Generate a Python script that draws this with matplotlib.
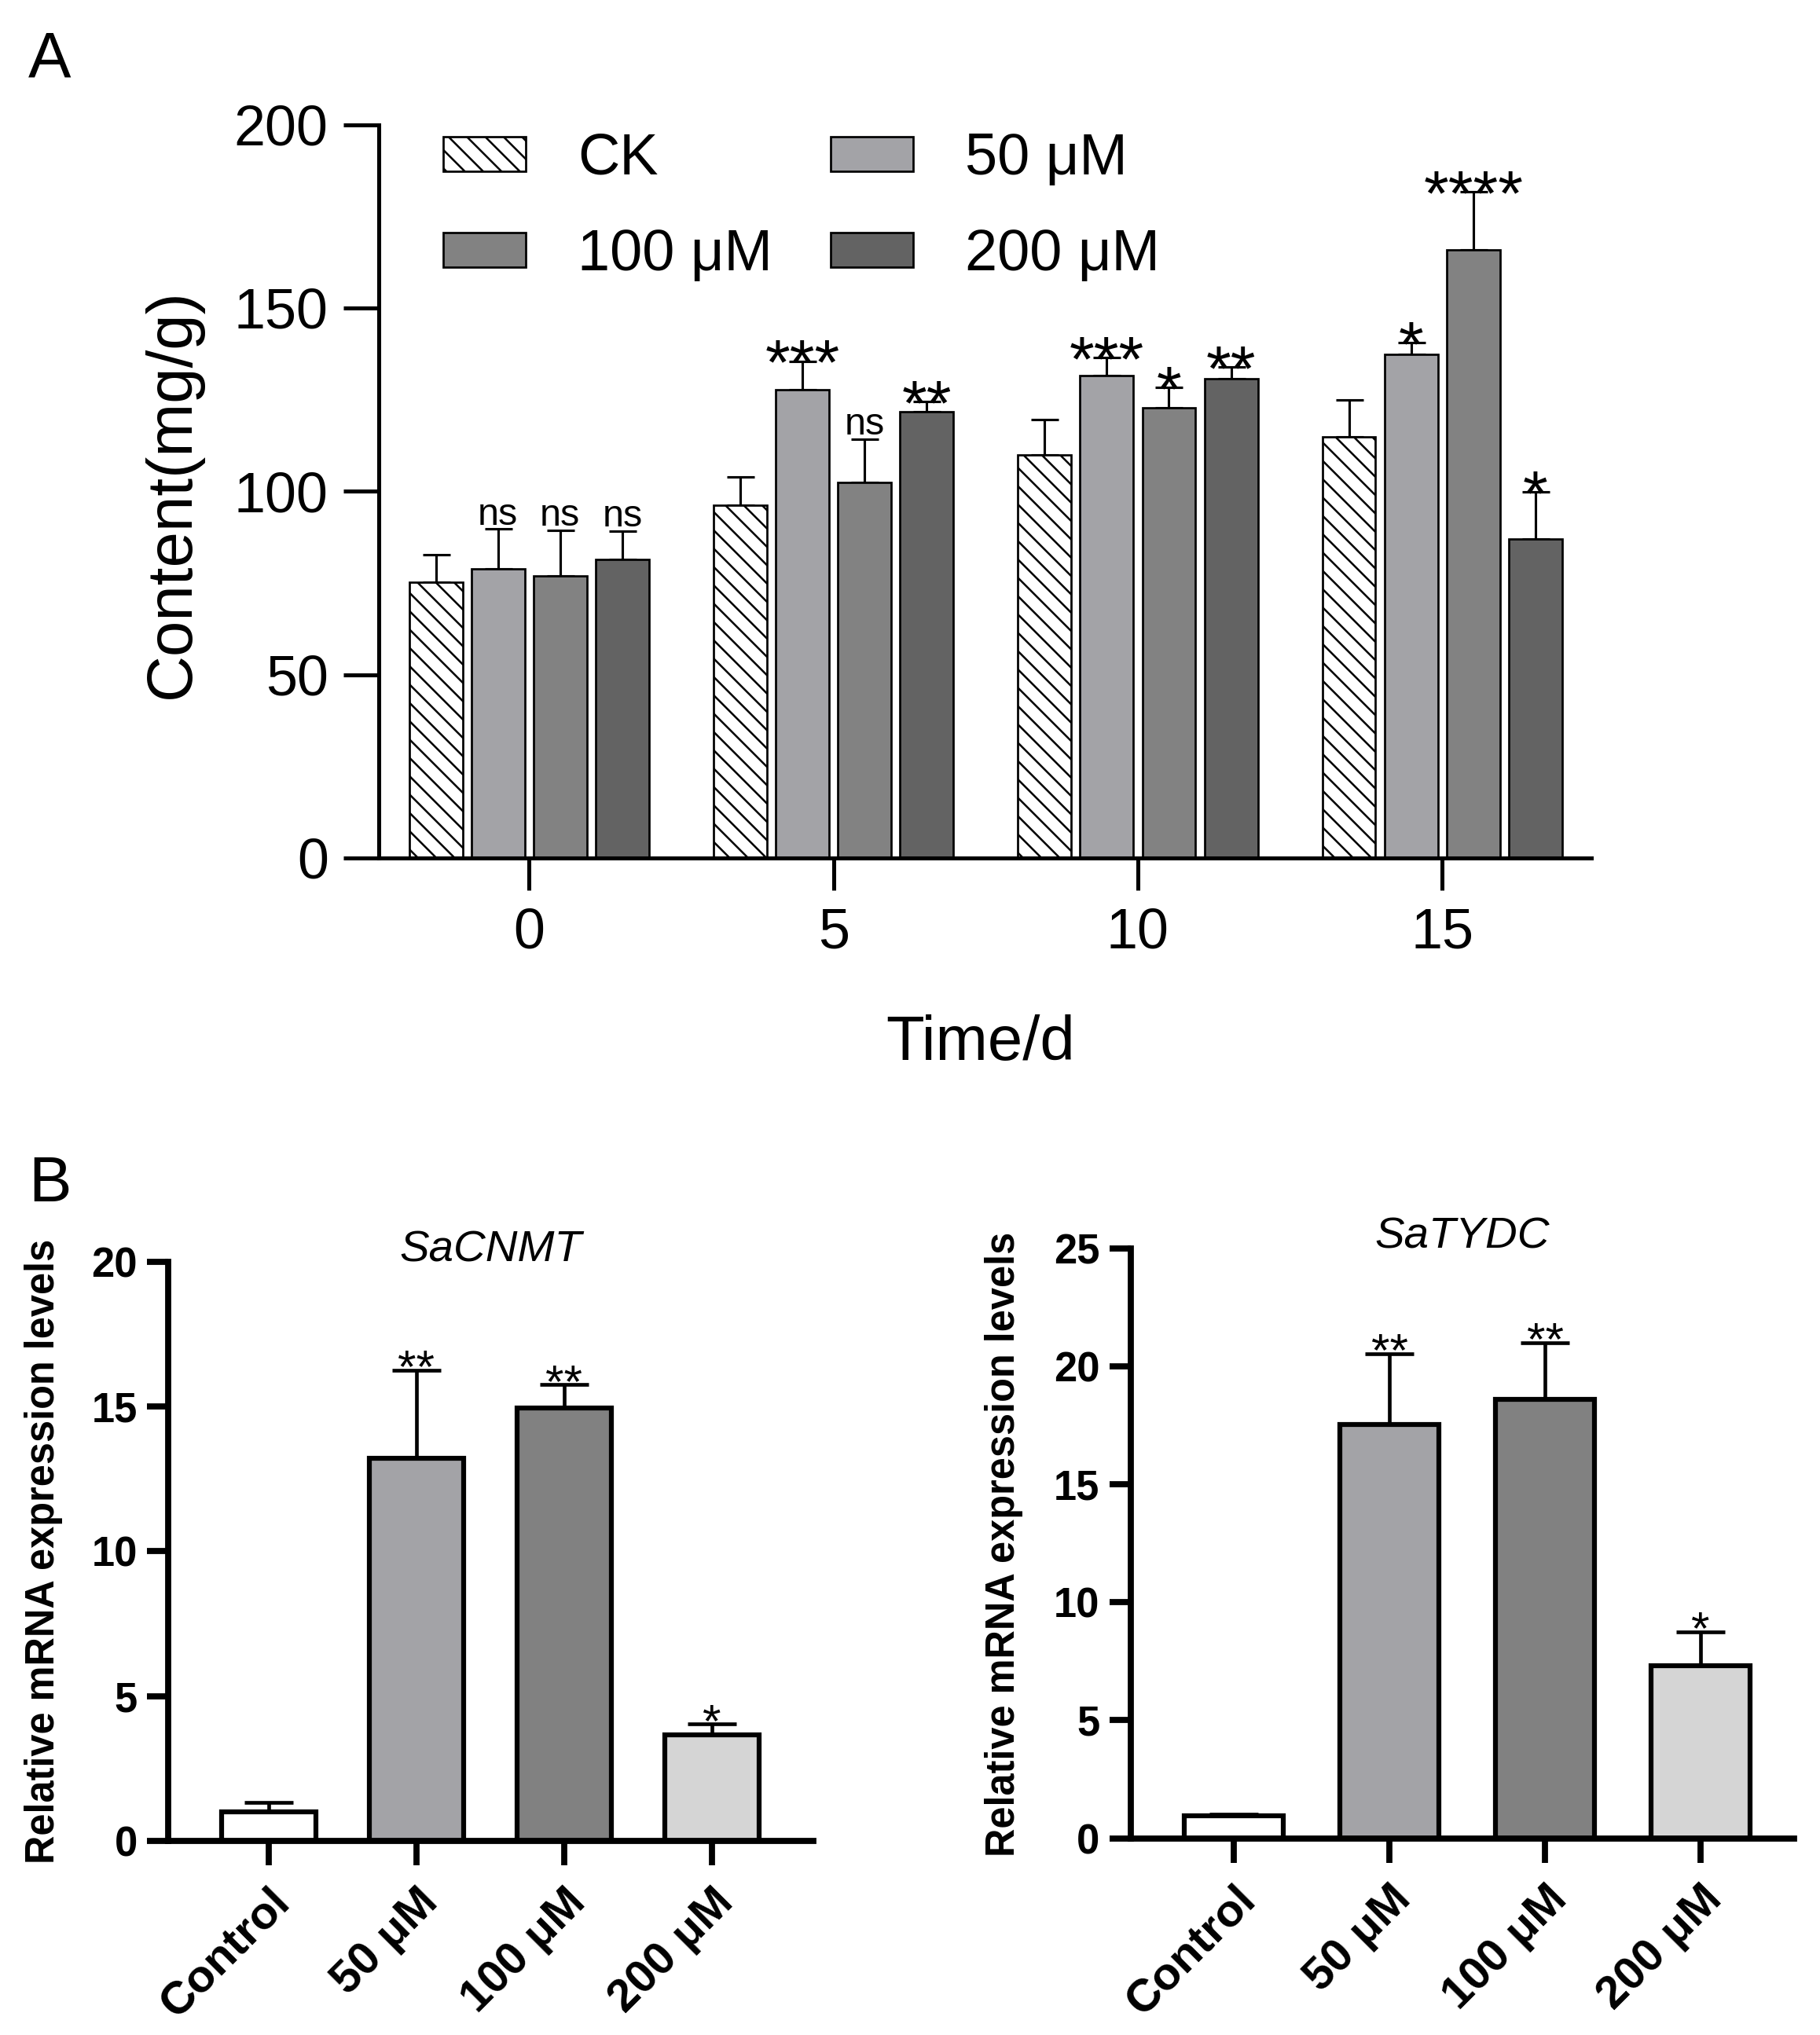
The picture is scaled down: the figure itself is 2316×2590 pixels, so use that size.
import numpy as np
import matplotlib
matplotlib.use("Agg")
import matplotlib.pyplot as plt

plt.rcParams['font.family'] = ['Liberation Sans', 'DejaVu Sans']
plt.rcParams['hatch.linewidth'] = 1.3

# ---------------- data ----------------
days = ["0", "5", "10", "15"]
series_a = ["CK", "50 μM", "100 μM", "200 μM"]
ck_vals = [75.2, 96.3, 109.9, 114.9]
ck_err = [7.6, 7.7, 9.6, 10.1]
c50_vals = [78.9, 127.7, 131.5, 137.3]
c50_err = [10.8, 7.8, 4.9, 3.2]
c100_vals = [76.9, 102.4, 122.7, 165.8]
c100_err = [12.5, 11.9, 5.6, 15.9]
c200_vals = [81.4, 121.7, 130.7, 87.0]
c200_err = [7.8, 2.7, 3.2, 12.9]
sig_ck = ["", "", "", ""]
sig_50 = ["ns", "***", "***", "*"]
sig_100 = ["ns", "ns", "*", "****"]
sig_200 = ["ns", "**", "**", "*"]

groups_b = ["Control", "50 μM", "100 μM", "200 μM"]
cnmt_vals = [1.0, 13.2, 14.95, 3.65]
cnmt_err = [0.33, 3.05, 0.8, 0.38]
cnmt_sig = ["", "**", "**", "*"]
tydc_vals = [0.95, 17.55, 18.6, 7.3]
tydc_err = [0.08, 3.0, 2.4, 1.45]
tydc_sig = ["", "**", "**", "*"]

colors_a = ["white", "#a3a3a7", "#828282", "#636363"]
hatches_a = ["\\\\", None, None, None]
colors_b = ["white", "#a3a3a7", "#818181", "#d5d5d5"]

W, H = 2316, 2590
DPI = 140
fig = plt.figure(figsize=(W / DPI, H / DPI), dpi=DPI)


def box(x0, y0, x1, y1):
    # pixel box (top-left origin) -> figure fraction
    return [x0 / W, 1 - y1 / H, (x1 - x0) / W, (y1 - y0) / H]


# ---------------- Panel A ----------------
axA = fig.add_axes(box(482, 158.6, 2025, 1092))
xg = np.arange(len(days))
pitch = 0.2043
width = 0.175
vals_a = [ck_vals, c50_vals, c100_vals, c200_vals]
errs_a = [ck_err, c50_err, c100_err, c200_err]
sigs_a = [sig_ck, sig_50, sig_100, sig_200]
handles = []
for i in range(4):
    xs = xg + (i - 1.5) * pitch
    b = axA.bar(xs, vals_a[i], width, color=colors_a[i], edgecolor="black",
                linewidth=1.4, hatch=hatches_a[i], label=series_a[i], zorder=2)
    handles.append(b)
    axA.errorbar(xs, vals_a[i], yerr=[np.zeros(4), errs_a[i]], fmt="none",
                 ecolor="black", elinewidth=1.6, capsize=9, capthick=1.6, zorder=1)
    for x, v, e, s in zip(xs, vals_a[i], errs_a[i], sigs_a[i]):
        if not s:
            continue
        if s == "ns":
            axA.annotate(s, (x, v + e), xytext=(0, 3), textcoords="offset points",
                         ha="center", va="baseline", fontsize=25)
        else:
            axA.annotate(s, (x, v + e), xytext=(0, -15), textcoords="offset points",
                         ha="center", va="baseline", fontsize=42)

axA.set_xlim(-0.494, 3.49)
axA.set_ylim(0, 200)
axA.set_yticks([0, 50, 100, 150, 200])
axA.set_xticks(xg)
axA.set_xticklabels(days)
for sp in ["top", "right"]:
    axA.spines[sp].set_visible(False)
for sp in ["left", "bottom"]:
    axA.spines[sp].set_linewidth(2.6)
axA.tick_params(axis="y", length=23, width=2.6, labelsize=37, pad=10)
axA.tick_params(axis="x", length=21, width=2.6, labelsize=37, pad=11)

# legend order: row 1 = CK, 50 uM ; row 2 = 100 uM, 200 uM
order = [0, 2, 1, 3]
leg = axA.legend(handles=[handles[k] for k in order],
                 labels=[series_a[k] for k in order], ncol=2, frameon=False,
                 loc="upper left", bbox_to_anchor=(0.053, 0.99), fontsize=38,
                 handlelength=1.42, handleheight=0.55, handletextpad=0.9,
                 columnspacing=1.0, labelspacing=0.72, borderpad=0, borderaxespad=0)

fig.text(220 / W, 1 - 628 / H, "Content(mg/g)", rotation=90, ha="center",
         va="center", fontsize=42)
fig.text(1248 / W, 1 - 1328 / H, "Time/d", ha="center", va="center", fontsize=41)
fig.text(36 / W, 1 - 38 / H, "A", ha="left", va="top", fontsize=42)
fig.text(36 / W, 1 - 1470 / H, "B", ha="left", va="top", fontsize=42)


# ---------------- Panel B ----------------
def panel_b(rect, vals, errs, sigs, ymax, yticks, title):
    ax = fig.add_axes(rect)
    x = np.arange(len(groups_b))
    ax.bar(x, vals, 0.636, color=colors_b, edgecolor="black", linewidth=3.2, zorder=2)
    ax.errorbar(x, vals, yerr=[np.zeros(len(vals)), errs], fmt="none", ecolor="black",
                elinewidth=2.4, capsize=16, capthick=2.4, zorder=1)
    for xi, v, e, s in zip(x, vals, errs, sigs):
        if s:
            ax.annotate(s, (xi, v + e), xytext=(0, -8), textcoords="offset points",
                        ha="center", va="baseline", fontsize=31)
    ax.set_ylim(0, ymax)
    ax.set_yticks(yticks)
    ax.set_xticks(x)
    ax.set_xticklabels(groups_b, rotation=45, ha="right", rotation_mode="anchor",
                       fontweight="bold", fontsize=30)
    for lab in ax.get_yticklabels():
        lab.set_fontweight("bold")
    for sp in ["top", "right"]:
        ax.spines[sp].set_visible(False)
    for sp in ["left", "bottom"]:
        ax.spines[sp].set_linewidth(4)
    ax.tick_params(axis="y", length=14, width=4, labelsize=27, pad=6)
    ax.tick_params(axis="x", length=16, width=4, pad=10)
    ax.text(0.5, 1.0, title, transform=ax.transAxes, ha="center", va="baseline",
            fontsize=29, style="italic")
    return ax


axB1 = panel_b(box(214, 1605.7, 1035, 2343), cnmt_vals, cnmt_err, cnmt_sig, 20,
               [0, 5, 10, 15, 20], "SaCNMT")
axB1.set_xlim(-0.68, 3.686)
axB2 = panel_b(box(1438.5, 1588.9, 2283, 2339.5), tydc_vals, tydc_err, tydc_sig, 25,
               [0, 5, 10, 15, 20, 25], "SaTYDC")
axB2.set_xlim(-0.665, 3.60)

fig.text(56 / W, 1 - 1974 / H, "Relative mRNA expression levels", rotation=90,
         ha="center", va="center", fontsize=26, fontweight="bold")
fig.text(1277 / W, 1 - 1965 / H, "Relative mRNA expression levels", rotation=90,
         ha="center", va="center", fontsize=26, fontweight="bold")

fig.savefig("out.png", dpi=DPI)
